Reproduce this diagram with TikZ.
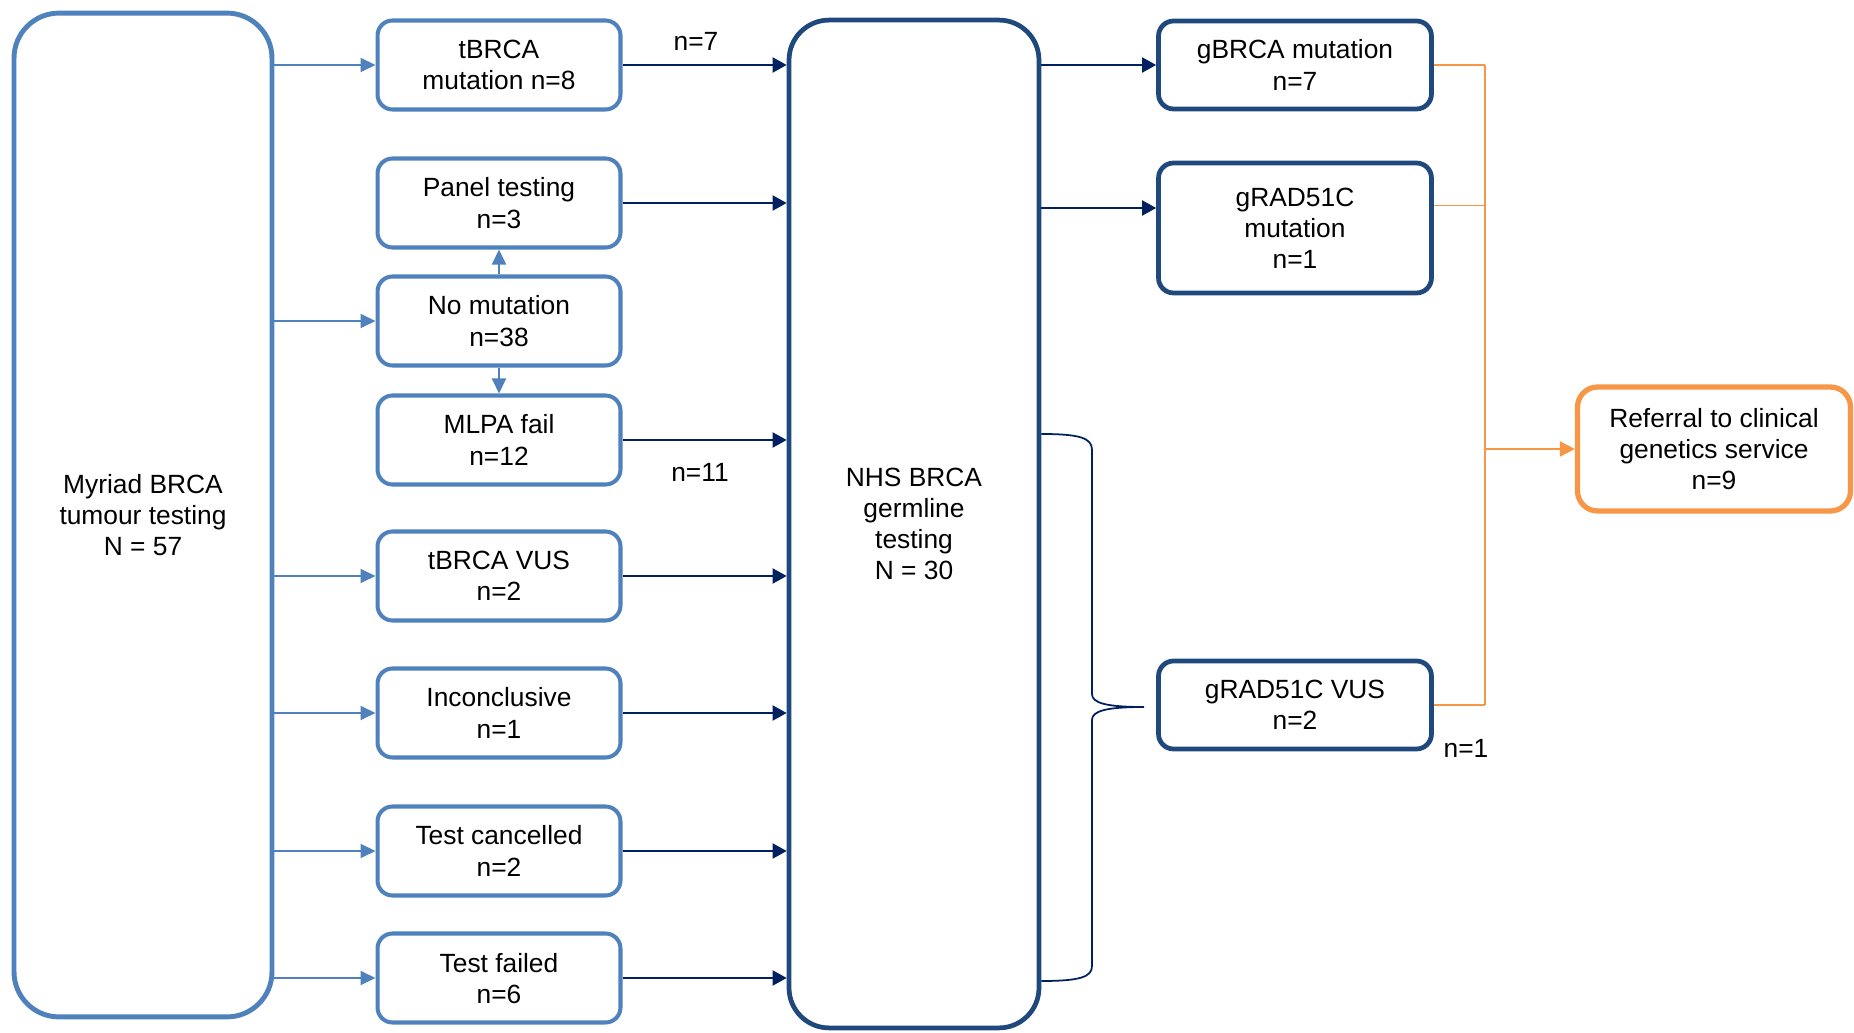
\documentclass[tikz,border=0pt]{standalone}
\usepackage{fontspec}
\setmainfont{Liberation Sans}
\usetikzlibrary{arrows.meta}

\definecolor{lblue}{HTML}{4F81BD}
\definecolor{nblue}{HTML}{1F497D}
\definecolor{darrow}{HTML}{002060}
\definecolor{orng}{HTML}{F79646}

\tikzset{
  lbox/.style={draw=lblue, line width=2.3pt, rounded corners=0.3cm, align=center,
    minimum width=4.86cm, minimum height=1.78cm, inner sep=0pt, text depth=-4pt},
  nbox/.style={draw=nblue, line width=2.7pt, rounded corners=0.3cm, align=center,
    minimum width=5.46cm, minimum height=1.76cm, inner sep=0pt, text depth=-4pt},
  obox/.style={draw=orng, line width=3pt, rounded corners=0.4cm, align=center,
    minimum width=5.46cm, minimum height=2.48cm, inner sep=0pt, text depth=-4pt},
  larr/.style={draw=lblue, line width=1.1pt, -{Triangle[length=0.3cm,width=0.28cm]}},
  darr/.style={draw=darrow, line width=1.1pt, -{Triangle[length=0.28cm,width=0.3cm]}},
  oline/.style={draw=orng, line width=1.1pt},
}

\begin{document}
\begin{tikzpicture}[x=0.02cm, y=-0.02cm, font=\fontsize{15}{17.7}\selectfont]

   \useasboundingbox (0,0) rectangle (1854,1033);

   \node[draw=lblue, line width=2.8pt, rounded corners=0.9cm, align=center,
     minimum width=5.16cm, minimum height=20.08cm] (myriad) at (143,515)
     {Myriad BRCA\\tumour testing\\N = 57};

   \node[lbox] (tbm) at (499,65)  {tBRCA\\mutation n=8};
   \node[lbox] (pan) at (499,203) {Panel testing\\n=3};
   \node[lbox] (nom) at (499,321) {No mutation\\n=38};
   \node[lbox] (mlpa) at (499,440) {MLPA fail\\n=12};
   \node[lbox] (tvus) at (499,576) {tBRCA VUS\\n=2};
   \node[lbox] (inc) at (499,713) {Inconclusive\\n=1};
   \node[lbox] (tcan) at (499,851) {Test cancelled\\n=2};
   \node[lbox] (tfail) at (499,978) {Test failed\\n=6};

   \node[draw=nblue, line width=2.7pt, rounded corners=0.8cm, align=center,
     minimum width=5cm, minimum height=20.16cm] (nhs) at (914,524)
     {NHS BRCA\\germline\\testing\\N = 30};

   \node[nbox] (gbm) at (1295,65) {gBRCA mutation\\n=7};
   \node[nbox, minimum height=2.6cm] (grm) at (1295,228) {gRAD51C\\mutation\\n=1};
   \node[nbox] (gvus) at (1295,705) {gRAD51C VUS\\n=2};

   \node[obox] (ref) at (1714,449) {Referral to clinical\\genetics service\\n=9};

   \node (lsev) at (696,41) {n=7};
   \node (lelev) at (700,472) {n=11};
   \node (lone) at (1466,748) {n=1};

   % tumour results
   \foreach \b in {tbm,nom,tvus,inc,tcan,tfail}
     \draw[larr] (myriad.east |- \b) -- (\b);
   \draw[larr] (nom) -- (pan);
   \draw[larr] (nom) -- (mlpa);

   % to germline testing
   \foreach \b in {tbm,pan,mlpa,tvus,inc,tcan,tfail}
     \draw[darr] (\b) -- (nhs.west |- \b);

   \coordinate (grmin) at ([yshift=0.4cm]grm.west);
   \coordinate (grmout) at ([yshift=0.45cm]grm.east);
   \draw[darr] (nhs.east |- gbm) -- (gbm);
   \draw[darr] (nhs.east |- grmin) -- (grmin);

   % brace
   \coordinate (btop) at (nhs.east |- 0,434);
   \coordinate (bbot) at (nhs.east |- 0,981);
   \draw[darrow, line width=1pt] (btop) .. controls (1080,434) and (1092,438) .. (1092,450)
     -- (1092,694) .. controls (1092,703) and (1106,707) .. (1144,707)
     .. controls (1106,707) and (1092,711) .. (1092,720)
     -- (1092,966) .. controls (1092,977) and (1080,981) .. (bbot);

   % referral
   \coordinate (bus) at (1485,0);
   \draw[oline] (gbm.east) -- (bus |- gbm);
   \draw[oline] (grmout) -- (bus |- grmout);
   \draw[oline] (gvus.east) -- (bus |- gvus);
   \draw[oline] (bus |- gbm) -- (bus |- gvus);
   \draw[oline, -{Triangle[length=0.3cm,width=0.3cm]}] (bus |- ref) -- (ref);

\end{tikzpicture}
\end{document}
